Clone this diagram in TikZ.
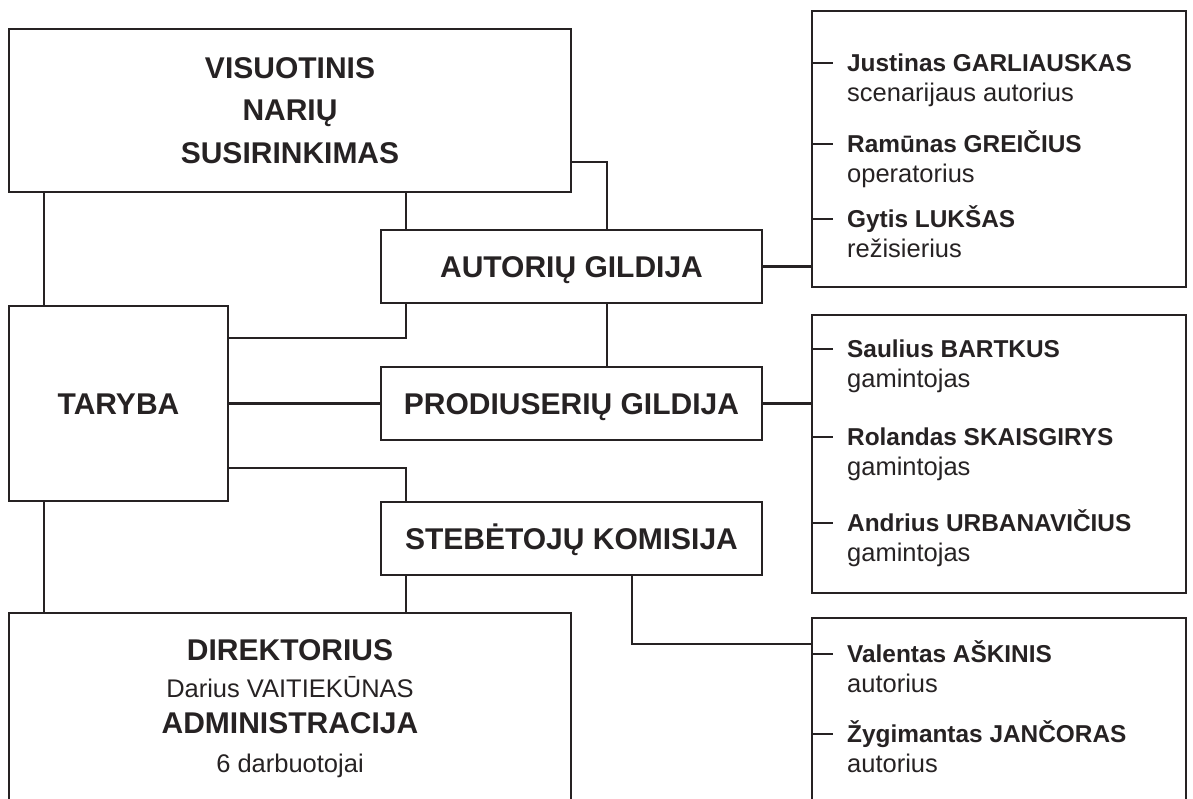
\documentclass[tikz,border=0pt]{standalone}
\usepackage{fontspec}
\setmainfont{Liberation Sans}
\usetikzlibrary{positioning}
\definecolor{ink}{RGB}{38,34,35}

\begin{document}
\begin{tikzpicture}[
    x=1pt,y=-1pt,
    color=ink,
    line width=2.3pt,
    box/.style={rectangle,draw,inner sep=0pt,outer sep=0pt},
    unit/.style={box,minimum width=381pt,minimum height=73pt,font=\bfseries\fontsize{30}{36}\selectfont,text height=21.5pt,text depth=0pt},
    group/.style={box,minimum width=374pt},
    title/.style={inner sep=0pt,font=\bfseries\fontsize{30}{36}\selectfont,text height=21.5pt,text depth=0pt},
    plain/.style={inner sep=0pt,font=\fontsize{25.5}{30}\selectfont,text height=18.2pt,text depth=0pt},
    pname/.style={anchor=west,inner sep=0pt,font=\bfseries\fontsize{24.4}{30}\selectfont,text height=17.4pt,text depth=0pt},
    prole/.style={anchor=base west,inner sep=0pt,font=\fontsize{25.5}{30}\selectfont}
  ]
    \useasboundingbox (0,0) rectangle (1193,798);
    \clip (0,0) rectangle (1193,798);

    % left column
    \node[box,minimum width=562pt,minimum height=163pt,align=center,
      font=\bfseries\fontsize{30}{42.5}\selectfont] (vns) at (290,110.5) {VISUOTINIS\\NARIŲ\\SUSIRINKIMAS};
    \node[box,minimum width=219pt,minimum height=195pt,font=\bfseries\fontsize{30}{36}\selectfont,
      text height=21.5pt,text depth=0pt] (tar) at (118.5,403.5) {TARYBA};
    \node[box,minimum width=562pt,minimum height=260pt,anchor=north west] (dir) at (9,613) {};
    \node[title] (dirhead) at (290,650) {DIREKTORIUS};
    \node[plain] (dirname) at (290,688) {Darius VAITIEKŪNAS};
    \node[title] (admhead) at (290,723) {ADMINISTRACIJA};
    \node[plain] (admcount) at (290,763) {6 darbuotojai};

    % middle column
    \node[unit] (aut) at (571.5,266.5) {AUTORIŲ GILDIJA};
    \node[unit,below=64pt of aut] (prod) {PRODIUSERIŲ GILDIJA};
    \node[unit,below=62pt of prod] (steb) {STEBĖTOJŲ KOMISIJA};

    % right column
    \node[group,minimum height=276pt] (grpA) at (999,149) {};
    \node[group,minimum height=278pt,below=28pt of grpA] (grpB) {};
    \node[group,minimum height=260pt,anchor=north west] (grpC) at (812,618) {};

    \node[pname] (ma1) at (846,63) {Justinas GARLIAUSKAS};
    \node[prole] (ra1) at ([yshift=-38.6pt]ma1.west) {scenarijaus autorius};
    \node[pname] (ma2) at (846,144) {Ramūnas GREIČIUS};
    \node[prole] (ra2) at ([yshift=-38.6pt]ma2.west) {operatorius};
    \node[pname] (ma3) at (846,219) {Gytis LUKŠAS};
    \node[prole] (ra3) at ([yshift=-38.6pt]ma3.west) {režisierius};

    \node[pname] (mb1) at (846,349) {Saulius BARTKUS};
    \node[prole] (rb1) at ([yshift=-38.6pt]mb1.west) {gamintojas};
    \node[pname] (mb2) at (846,437) {Rolandas SKAISGIRYS};
    \node[prole] (rb2) at ([yshift=-38.6pt]mb2.west) {gamintojas};
    \node[pname] (mb3) at (846,523) {Andrius URBANAVIČIUS};
    \node[prole] (rb3) at ([yshift=-38.6pt]mb3.west) {gamintojas};

    \node[pname] (mc1) at (846,654) {Valentas AŠKINIS};
    \node[prole] (rc1) at ([yshift=-38.6pt]mc1.west) {autorius};
    \node[pname] (mc2) at (846,734) {Žygimantas JANČORAS};
    \node[prole] (rc2) at ([yshift=-38.6pt]mc2.west) {autorius};

    % trunk lines
    \coordinate (lx) at (44,0);
    \coordinate (mx) at (406,0);
    \coordinate (rx) at (607,0);
    \coordinate (sx) at (632,0);
    \coordinate (vy) at (0,162);
    \coordinate (ty1) at (0,338);
    \coordinate (ty2) at (0,468);
    \coordinate (cy) at (0,644);

    \draw (vns.south -| lx) -- (tar.north -| lx);
    \draw (tar.south -| lx) -- (dir.north -| lx);
    \draw (vns.south -| mx) -- (aut.north -| mx);
    \draw (vns.east |- vy) -| (aut.north -| rx);
    \draw (tar.east |- ty1) -| (aut.south -| mx);
    \draw (aut.south -| rx) -- (prod.north -| rx);
    \draw (tar.east) -- (prod.west);
    \draw (tar.east |- ty2) -| (steb.north -| mx);
    \draw (steb.south -| mx) -- (dir.north -| mx);
    \draw (aut.east) -- (aut.east -| grpA.west);
    \draw (prod.east) -- (prod.east -| grpB.west);
    \draw (steb.south -| sx) |- (grpC.west |- cy);

    % ticks
    \foreach \m/\g in {ma1/grpA,ma2/grpA,ma3/grpA,mb1/grpB,mb2/grpB,mb3/grpB,mc1/grpC,mc2/grpC}
      \draw (\g.west |- \m.west) -- ++(21,0);
\end{tikzpicture}
\end{document}
